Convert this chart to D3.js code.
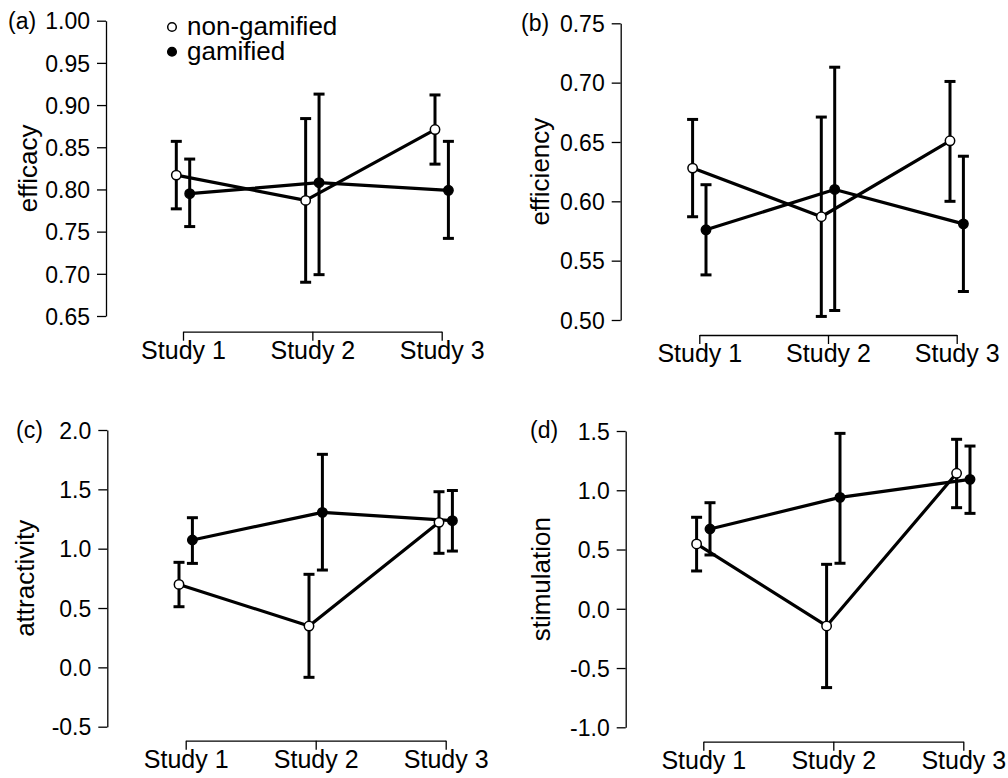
<!DOCTYPE html>
<html>
<head>
<meta charset="utf-8">
<script src="https://cdn.jsdelivr.net/npm/d3@7"></script>
<style>
  html, body { margin: 0; padding: 0; background: #fff; }
  svg text { font-family: "Liberation Sans", Arial, Helvetica, sans-serif; fill: #000; }
</style>
</head>
<body>
<div id="chart"></div>
<script>
//Datos
const studies = ['Study 1', 'Study 2', 'Study 3'];

//(a) efficacy
const efficacyNonMean = [0.817, 0.787, 0.871],
efficacyNonLow = [0.777, 0.690, 0.830],
efficacyNonHigh = [0.857, 0.884, 0.912],
efficacyGamMean = [0.795, 0.808, 0.799],
efficacyGamLow = [0.756, 0.699, 0.742],
efficacyGamHigh = [0.836, 0.913, 0.857],
efficacyTicks = ['0.65', '0.70', '0.75', '0.80', '0.85', '0.90', '0.95', '1.00'];

//(b) efficiency
const efficiencyNonMean = [0.628, 0.587, 0.651],
efficiencyNonLow = [0.587, 0.503, 0.600],
efficiencyNonHigh = [0.669, 0.671, 0.701],
efficiencyGamMean = [0.576, 0.610, 0.581],
efficiencyGamLow = [0.538, 0.508, 0.524],
efficiencyGamHigh = [0.614, 0.713, 0.638],
efficiencyTicks = ['0.50', '0.55', '0.60', '0.65', '0.70', '0.75'];

//(c) attractivity
const attractNonMean = [0.699, 0.348, 1.222],
attractNonLow = [0.511, -0.084, 0.961],
attractNonHigh = [0.885, 0.784, 1.480],
attractGamMean = [1.073, 1.306, 1.236],
attractGamLow = [0.876, 0.820, 0.980],
attractGamHigh = [1.261, 1.795, 1.490],
attractTicks = ['-0.5', '0.0', '0.5', '1.0', '1.5', '2.0'];

//(d) stimulation
const stimNonMean = [0.547, -0.145, 1.143],
stimNonLow = [0.319, -0.665, 0.853],
stimNonHigh = [0.772, 0.375, 1.430],
stimGamMean = [0.673, 0.940, 1.092],
stimGamLow = [0.454, 0.384, 0.805],
stimGamHigh = [0.895, 1.480, 1.373],
stimTicks = ['-1.0', '-0.5', '0.0', '0.5', '1.0', '1.5'];

const legendLabels = ['non-gamified', 'gamified'];

//Disposición de los paneles
const panels = [
    { tag: '(a)', title: 'efficacy', ticks: efficacyTicks,
      non: [efficacyNonMean, efficacyNonLow, efficacyNonHigh],
      gam: [efficacyGamMean, efficacyGamLow, efficacyGamHigh],
      axisX: 106, yTop: 20.7, yBottom: 316, xFirst: 183, xLast: 441.7, xAxisY: 331.7,
      titleX: 37, tagX: 8, tagY: 29, legend: true },
    { tag: '(b)', title: 'efficiency', ticks: efficiencyTicks,
      non: [efficiencyNonMean, efficiencyNonLow, efficiencyNonHigh],
      gam: [efficiencyGamMean, efficiencyGamLow, efficiencyGamHigh],
      axisX: 620.7, yTop: 23.3, yBottom: 320, xFirst: 699.3, xLast: 956.7, xAxisY: 335,
      titleX: 549, tagX: 521, tagY: 31 },
    { tag: '(c)', title: 'attractivity', ticks: attractTicks,
      non: [attractNonMean, attractNonLow, attractNonHigh],
      gam: [attractGamMean, attractGamLow, attractGamHigh],
      axisX: 107.3, yTop: 430, yBottom: 726.7, xFirst: 185.7, xLast: 445.7, xAxisY: 740.7,
      titleX: 34, tagX: 16, tagY: 438 },
    { tag: '(d)', title: 'stimulation', ticks: stimTicks,
      non: [stimNonMean, stimNonLow, stimNonHigh],
      gam: [stimGamMean, stimGamLow, stimGamHigh],
      axisX: 625.7, yTop: 431, yBottom: 727.3, xFirst: 703.3, xLast: 963.3, xAxisY: 741.7,
      titleX: 550, tagX: 530, tagY: 438 }
];

const DODGE = 6.7, CAP = 5.5, R = 4.7;
const TICK_FS = 23, CAT_FS = 25, TITLE_FS = 26, LEG_FS = 26;

let svg = d3.select('#chart')
    .append('svg')
    .attr('width', 1008)
    .attr('height', 778);

panels.forEach(function(p) {
    let g = svg.append('g');
    let tickValues = p.ticks.map(Number);

    let y = d3.scaleLinear()
        .domain([tickValues[0], tickValues[tickValues.length - 1]])
        .range([p.yBottom, p.yTop]);

    let x = d3.scalePoint()
        .domain(studies)
        .range([p.xFirst, p.xLast]);

    //Eje Y
    let yAxis = g.append('g')
        .attr('transform', 'translate(' + p.axisX + ',0)')
        .call(d3.axisLeft(y).tickValues(tickValues).tickSize(9).tickSizeOuter(0).tickPadding(7)
            .tickFormat(function(d, i) { return p.ticks[i]; }));
    yAxis.selectAll('path, line').attr('stroke', '#000').attr('stroke-width', 1.3);
    yAxis.selectAll('text').attr('font-size', TICK_FS).attr('dy', '0.36em');

    //Eje X
    let xAxis = g.append('g')
        .attr('transform', 'translate(0,' + p.xAxisY + ')')
        .call(d3.axisBottom(x).tickSize(9).tickSizeOuter(0));
    xAxis.selectAll('path, line').attr('stroke', '#000').attr('stroke-width', 1.3);
    xAxis.selectAll('text').attr('font-size', CAT_FS).attr('y', 27).attr('dy', 0);
    g.selectAll('.domain').attr('fill', 'none');
    g.selectAll('.tick text').attr('font-family', null);

    //Título del eje
    g.append('text')
        .attr('transform', 'translate(' + p.titleX + ',' + ((p.yTop + p.yBottom) / 2) + ') rotate(-90)')
        .attr('text-anchor', 'middle')
        .attr('font-size', TITLE_FS)
        .text(p.title);

    //Etiqueta del panel
    g.append('text')
        .attr('x', p.tagX)
        .attr('y', p.tagY)
        .attr('font-size', TICK_FS)
        .text(p.tag);

    //Series
    let series = [
        { vals: p.non, dx: -DODGE, fill: '#fff' },
        { vals: p.gam, dx: DODGE, fill: '#000' }
    ];

    series.forEach(function(s) {
        let rows = studies.map(function(st, i) {
            return { study: st, mean: s.vals[0][i], lo: s.vals[1][i], hi: s.vals[2][i] };
        });
        let line = d3.line()
            .x(function(d) { return x(d.study) + s.dx; })
            .y(function(d) { return y(d.mean); });
        g.append('path')
            .datum(rows)
            .attr('d', line)
            .attr('fill', 'none')
            .attr('stroke', '#000')
            .attr('stroke-width', 3.2)
            .attr('stroke-linejoin', 'round');
        s.rows = rows;
    });

    series.forEach(function(s) {
        let eb = g.selectAll(null).data(s.rows).enter().append('g');
        eb.append('line')
            .attr('x1', function(d) { return x(d.study) + s.dx; })
            .attr('x2', function(d) { return x(d.study) + s.dx; })
            .attr('y1', function(d) { return y(d.lo); })
            .attr('y2', function(d) { return y(d.hi); });
        eb.append('line')
            .attr('x1', function(d) { return x(d.study) + s.dx - CAP; })
            .attr('x2', function(d) { return x(d.study) + s.dx + CAP; })
            .attr('y1', function(d) { return y(d.hi); })
            .attr('y2', function(d) { return y(d.hi); });
        eb.append('line')
            .attr('x1', function(d) { return x(d.study) + s.dx - CAP; })
            .attr('x2', function(d) { return x(d.study) + s.dx + CAP; })
            .attr('y1', function(d) { return y(d.lo); })
            .attr('y2', function(d) { return y(d.lo); });
        eb.selectAll('line').attr('stroke', '#000').attr('stroke-width', 3);
    });

    series.forEach(function(s) {
        g.selectAll(null).data(s.rows).enter().append('circle')
            .attr('cx', function(d) { return x(d.study) + s.dx; })
            .attr('cy', function(d) { return y(d.mean); })
            .attr('r', R)
            .attr('fill', s.fill)
            .attr('stroke', '#000')
            .attr('stroke-width', 1.5);
    });

    //Leyenda
    if (p.legend) {
        let leg = g.selectAll('.legend').data(legendLabels).enter().append('g')
            .attr('class', 'legend')
            .attr('transform', function(d, i) { return 'translate(172,' + (27 + i * 24.7) + ')'; });
        leg.append('circle')
            .attr('r', 4.3)
            .attr('fill', function(d, i) { return i == 0 ? '#fff' : '#000'; })
            .attr('stroke', '#000')
            .attr('stroke-width', 1.5);
        leg.append('text')
            .attr('x', 15)
            .attr('y', 8)
            .attr('font-size', LEG_FS)
            .text(function(d) { return d; });
    }
});
</script>
</body>
</html>
